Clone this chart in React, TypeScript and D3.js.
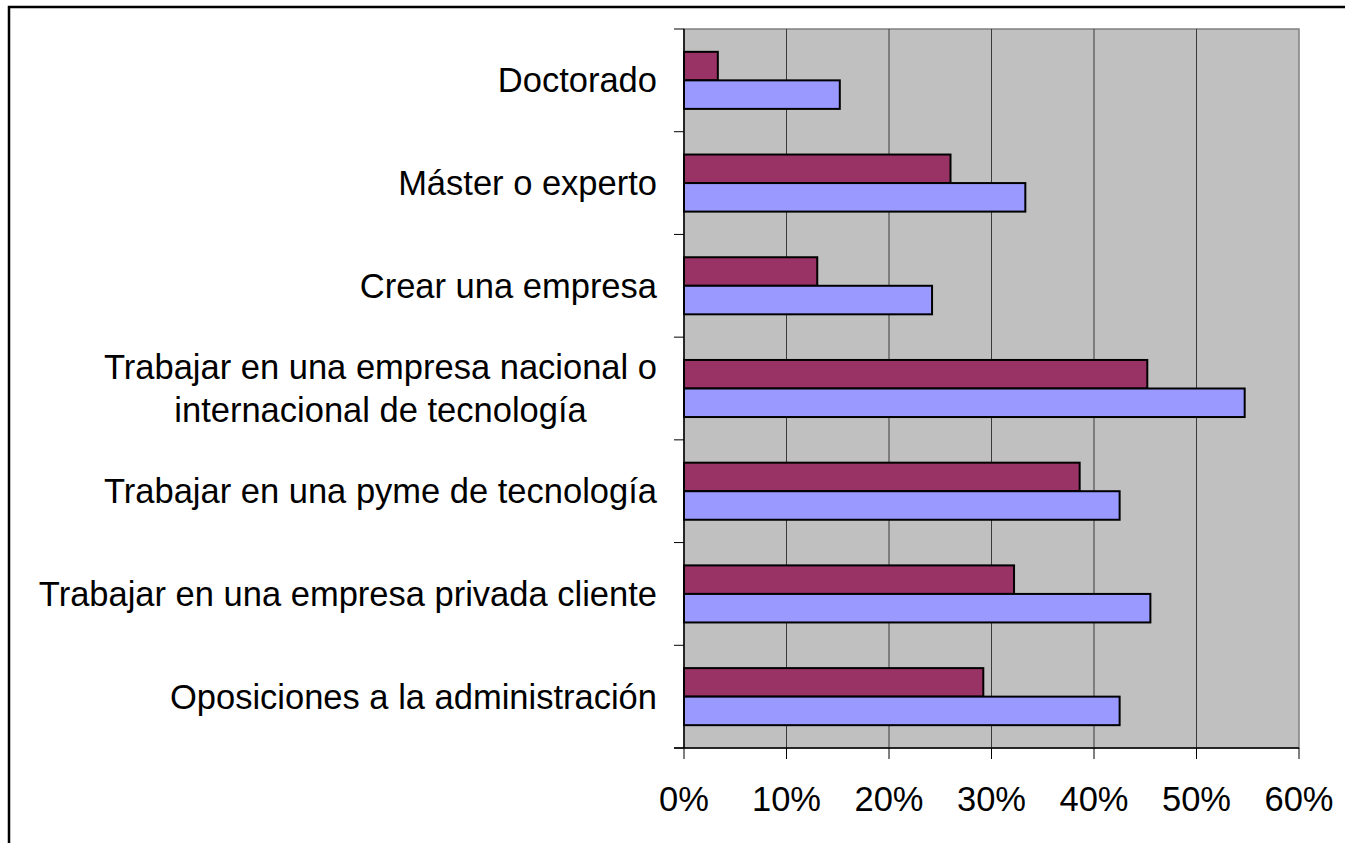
import React, { useEffect, useRef } from 'react'
import * as d3 from 'd3'

// categories top to bottom
const categories = [
  'Doctorado',
  'Máster o experto',
  'Crear una empresa',
  'Trabajar en una empresa nacional o|internacional de tecnología',
  'Trabajar en una pyme de tecnología',
  'Trabajar en una empresa privada cliente',
  'Oposiciones a la administración',
]
const seriesA = [3.3, 26.0, 13.0, 45.2, 38.6, 32.2, 29.2] // maroon
const seriesB = [15.2, 33.3, 24.2, 54.7, 42.5, 45.5, 42.5] // blue
const xTicks = [0, 10, 20, 30, 40, 50, 60]

const W = 1345
const H = 843

const App = () => {
  const ref = useRef<SVGSVGElement>(null)

  useEffect(() => {
    const svg = d3.select(ref.current)
    svg.selectAll('*').remove()

    const left = 684
    const right = 1299
    const top = 29
    const bottom = 748
    const font = 'Arial, "Liberation Sans", sans-serif'
    const fs = 34.5

    // outer frame
    svg.append('rect')
      .attr('x', 9).attr('y', 7)
      .attr('width', W + 20).attr('height', H + 20)
      .attr('fill', 'white').attr('stroke', '#000').attr('stroke-width', 2.5)

    const x = d3.scaleLinear().domain([0, 60]).range([left, right])
    const y = d3.scaleBand().domain(categories).range([top, bottom]).padding(0)
    const sub = d3.scaleBand().domain(['a', 'b']).range([0, y.step()]).paddingInner(0).paddingOuter(0.8)

    // plot area
    svg.append('rect')
      .attr('x', left).attr('y', top)
      .attr('width', right - left).attr('height', bottom - top)
      .attr('fill', '#c0c0c0').attr('stroke', '#808080').attr('stroke-width', 1.5)

    // gridlines
    svg.append('g').selectAll('line')
      .data(xTicks.slice(1, -1))
      .join('line')
      .attr('x1', d => x(d)).attr('x2', d => x(d))
      .attr('y1', top).attr('y2', bottom)
      .attr('stroke', '#3a3a3a').attr('stroke-width', 1)

    // bars
    const g = svg.append('g')
    categories.forEach((c, i) => {
      const y0 = y(c) as number
      ;[['a', seriesA[i], '#993366'], ['b', seriesB[i], '#9999ff']].forEach(([k, v, col]) => {
        g.append('rect')
          .attr('x', x(0))
          .attr('y', y0 + (sub(k as string) as number))
          .attr('width', x(v as number) - x(0))
          .attr('height', sub.bandwidth())
          .attr('fill', col as string)
          .attr('stroke', '#000')
          .attr('stroke-width', 2)
      })
    })

    // axes
    svg.append('line')
      .attr('x1', left).attr('x2', left).attr('y1', top).attr('y2', bottom)
      .attr('stroke', '#000').attr('stroke-width', 1.5)
    svg.append('line')
      .attr('x1', left - 10).attr('x2', right).attr('y1', bottom).attr('y2', bottom)
      .attr('stroke', '#000').attr('stroke-width', 1.5)

    // y ticks at category boundaries
    svg.append('g').selectAll('line')
      .data(d3.range(categories.length + 1))
      .join('line')
      .attr('x1', left - 10).attr('x2', left)
      .attr('y1', d => top + d * y.step()).attr('y2', d => top + d * y.step())
      .attr('stroke', '#000').attr('stroke-width', 1)

    // x ticks
    svg.append('g').selectAll('line')
      .data(xTicks)
      .join('line')
      .attr('x1', d => x(d)).attr('x2', d => x(d))
      .attr('y1', bottom).attr('y2', bottom + 11)
      .attr('stroke', '#000').attr('stroke-width', 1)

    svg.append('g').selectAll('text')
      .data(xTicks)
      .join('text')
      .attr('x', d => x(d)).attr('y', 811)
      .attr('text-anchor', 'middle')
      .attr('font-family', font).attr('font-size', fs)
      .text(d => `${d}%`)

    // category labels (multi-line labels are centred on their widest line)
    const lab = svg.append('g')
    categories.forEach(c => {
      const cy = (y(c) as number) + y.step() / 2
      const lines = c.split('|')
      const nodes = lines.map((ln, j) => {
        const dy = (j - (lines.length - 1) / 2) * 43
        return lab.append('text')
          .attr('x', 657).attr('y', cy + dy + 12)
          .attr('text-anchor', 'end')
          .attr('font-family', font).attr('font-size', fs)
          .text(ln)
      })
      if (nodes.length > 1) {
        const maxW = d3.max(nodes, n => (n.node() as SVGTextElement).getComputedTextLength()) as number
        nodes.forEach(n => n.attr('text-anchor', 'middle').attr('x', 657 - maxW / 2))
      }
    })
  })

  return (
    <svg ref={ref} width={W} height={H}
      style={{ position: 'fixed', left: 0, top: 0, background: 'white' }} />
  )
}

export default App
